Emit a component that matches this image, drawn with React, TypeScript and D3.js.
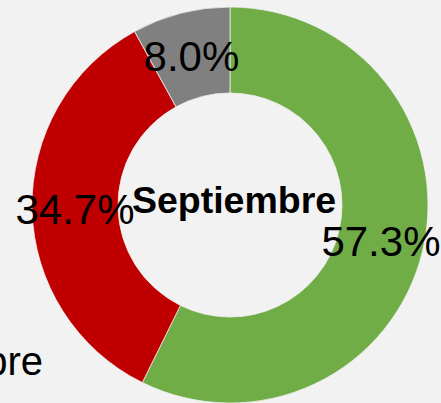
import React from "react";
import * as d3 from "d3";

const categories = ["A", "B", "C"];
const values = [57.3, 34.7, 8.0];
const colors = ["#70ad47", "#c00000", "#808080"];
const centerLabel = "Septiembre";
const legendLabel = "Septiembre";

export default function App() {
  const W = 441, H = 403;
  const cx = 230, cy = 205;
  const outerR = 198, innerR = 112;
  const pie = d3.pie<number>().sort(null).value((d) => d)(values);
  const arc = d3.arc<d3.PieArcDatum<number>>().innerRadius(innerR).outerRadius(outerR);
  const font = "Liberation Sans, Arial, Helvetica, sans-serif";
  return (
    <svg width={W} height={H} style={{ position: "fixed", left: 0, top: 0, display: "block", background: "#f2f2f2" }}>
      <rect width={W} height={H} fill="#f2f2f2" />
      <g transform={`translate(${cx},${cy})`}>
        {pie.map((p, i) => (
          <path key={categories[i]} d={arc(p) || ""} fill={colors[i]} stroke="#f2f2f2" strokeWidth={0.75} />
        ))}
        {pie.map((p, i) => {
          const [x, y] = arc.centroid(p);
          return (
            <text key={"l" + i} x={x} y={y + 16} textAnchor="middle" fontFamily={font} fontSize={42} fill="#000">
              {values[i].toFixed(1)}%
            </text>
          );
        })}
        <text x={4} y={8} textAnchor="middle" fontFamily={font} fontSize={37.5} fontWeight="bold" fill="#000">
          {centerLabel}
        </text>
      </g>
      <text x={43} y={375} textAnchor="end" fontFamily={font} fontSize={40} fill="#000">
        {legendLabel}
      </text>
    </svg>
  );
}
